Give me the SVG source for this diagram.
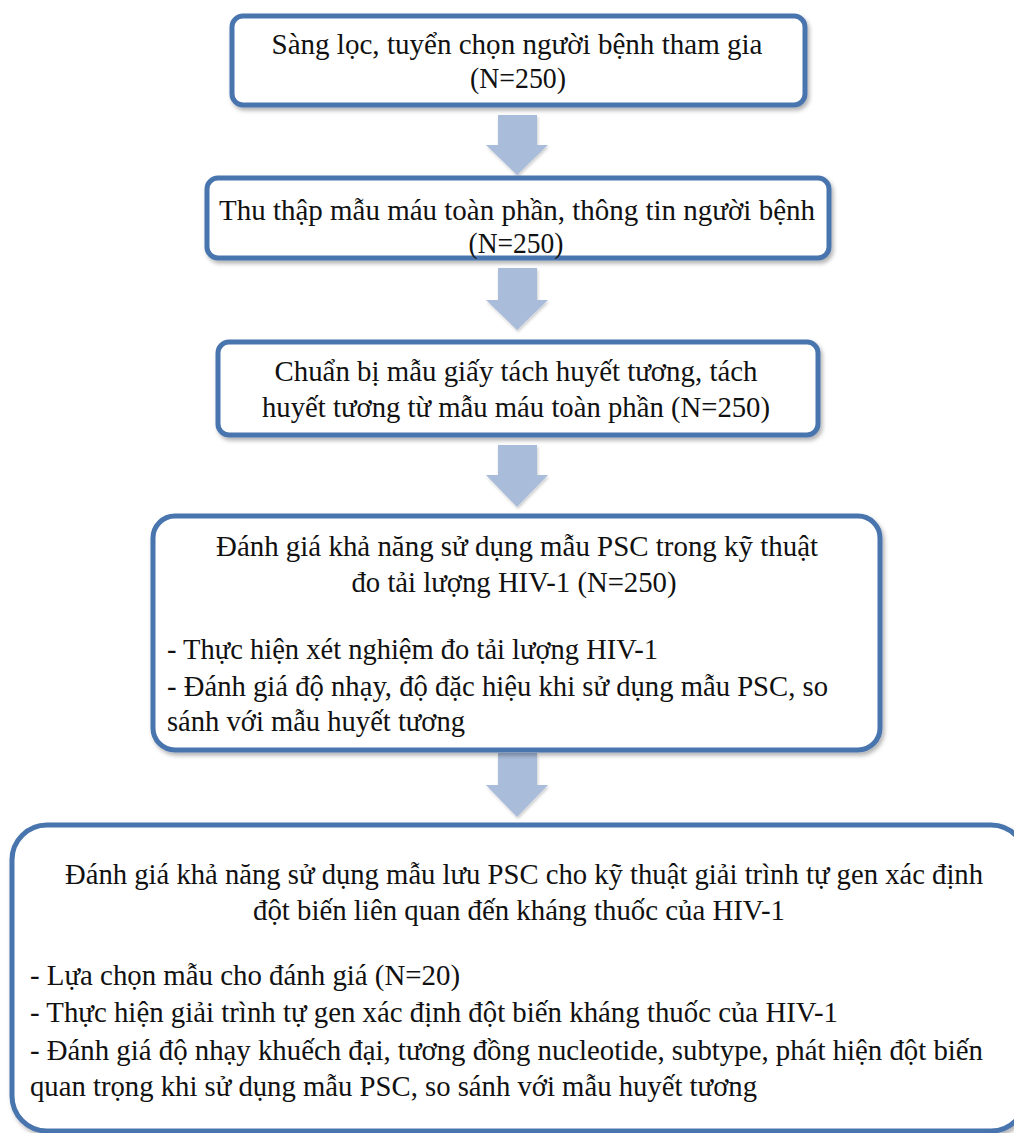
<svg xmlns="http://www.w3.org/2000/svg" width="1014" height="1133" viewBox="0 0 1014 1133">
<defs>
<filter id="sh" x="-5%" y="-10%" width="110%" height="125%">
<feDropShadow dx="2" dy="3" stdDeviation="2" flood-color="#000" flood-opacity="0.3"/>
</filter>
<filter id="ash" x="-20%" y="-20%" width="140%" height="140%">
<feDropShadow dx="1" dy="2" stdDeviation="1.5" flood-color="#000" flood-opacity="0.2"/>
</filter>
</defs>
<style>
.box{fill:#fff;stroke:#4a75ae;stroke-width:5;filter:url(#sh)}
.arr{fill:#a9bcda;filter:url(#ash)}
text{font-family:"Liberation Serif","Times New Roman",serif;font-size:29px;fill:#111}
.c{text-anchor:middle}
</style>
<rect width="1014" height="1133" fill="#fff"/>
<g id="connectors">
<polygon class="arr" points="498,115 537,115 537,145 548,145 517,175 486,145 498,145"/>
<polygon class="arr" points="498,268 537,268 537,300 548,300 517,330 486,300 498,300"/>
<polygon class="arr" points="498,445 537,445 537,475 548,475 517,507 486,475 498,475"/>
<polygon class="arr" points="498,753 537,753 537,785 548,785 517,817 486,785 498,785"/>
</g>
<g id="node1">
<rect class="box" x="232" y="16" width="573" height="89" rx="11"/>
<text x="517" y="54" textLength="491" lengthAdjust="spacingAndGlyphs" class="c">Sàng lọc, tuyển chọn người bệnh tham gia</text>
<text x="518" y="88" textLength="96" lengthAdjust="spacingAndGlyphs" class="c">(N=250)</text>
</g>
<g id="node2">
<rect class="box" x="207" y="178" width="622" height="80" rx="11"/>
<text x="517" y="220" textLength="596" lengthAdjust="spacingAndGlyphs" class="c">Thu thập mẫu máu toàn phần, thông tin người bệnh</text>
<text x="516" y="253" textLength="95" lengthAdjust="spacingAndGlyphs" class="c">(N=250)</text>
</g>
<g id="node3">
<rect class="box" x="218" y="342" width="600" height="93" rx="11"/>
<text x="516" y="381" textLength="483" lengthAdjust="spacingAndGlyphs" class="c">Chuẩn bị mẫu giấy tách huyết tương, tách</text>
<text x="516" y="417" textLength="508" lengthAdjust="spacingAndGlyphs" class="c">huyết tương từ mẫu máu toàn phần (N=250)</text>
</g>
<g id="node4">
<rect class="box" x="153" y="516" width="727" height="234" rx="22"/>
<text x="517" y="556" textLength="602" lengthAdjust="spacingAndGlyphs" class="c">Đánh giá khả năng sử dụng mẫu PSC trong kỹ thuật</text>
<text x="514" y="592" textLength="325" lengthAdjust="spacingAndGlyphs" class="c">đo tải lượng HIV-1 (N=250)</text>
<text x="167" y="659" textLength="491" lengthAdjust="spacingAndGlyphs">- Thực hiện xét nghiệm đo tải lượng HIV-1</text>
<text x="167" y="696" textLength="661" lengthAdjust="spacingAndGlyphs">- Đánh giá độ nhạy, độ đặc hiệu khi sử dụng mẫu PSC, so</text>
<text x="167" y="731" textLength="298" lengthAdjust="spacingAndGlyphs">sánh với mẫu huyết tương</text>
</g>
<g id="node5">
<rect class="box" x="12" y="825" width="1014" height="306" rx="35"/>
<text x="524" y="884" textLength="918" lengthAdjust="spacingAndGlyphs" class="c">Đánh giá khả năng sử dụng mẫu lưu PSC cho kỹ thuật giải trình tự gen xác định</text>
<text x="519" y="920" textLength="532" lengthAdjust="spacingAndGlyphs" class="c">đột biến liên quan đến kháng thuốc của HIV-1</text>
<text x="30" y="985" textLength="430" lengthAdjust="spacingAndGlyphs">- Lựa chọn mẫu cho đánh giá (N=20)</text>
<text x="30" y="1022" textLength="808" lengthAdjust="spacingAndGlyphs">- Thực hiện giải trình tự gen xác định đột biến kháng thuốc của HIV-1</text>
<text x="30" y="1060" textLength="953" lengthAdjust="spacingAndGlyphs">- Đánh giá độ nhạy khuếch đại, tương đồng nucleotide, subtype, phát hiện đột biến</text>
<text x="30" y="1096" textLength="727" lengthAdjust="spacingAndGlyphs">quan trọng khi sử dụng mẫu PSC, so sánh với mẫu huyết tương</text>
</g>
</svg>
